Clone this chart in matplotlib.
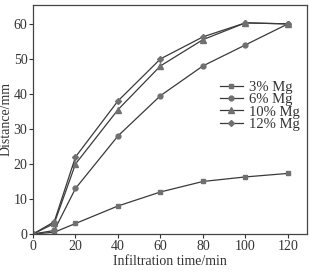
import matplotlib
matplotlib.use("Agg")
import matplotlib.pyplot as plt

plt.rcParams['font.family'] = ['Liberation Serif', 'DejaVu Serif']

time_min = [0, 10, 20, 40, 60, 80, 100, 120]
mg3  = [0, 0.5, 3, 8, 12, 15, 16.3, 17.3]
mg6  = [0, 1, 13, 28, 39.5, 48, 54, 60]
mg10 = [0, 3, 20, 35.5, 48, 55.5, 60.3, 60]
mg12 = [0, 3.5, 22, 38, 50, 56.3, 60.3, 60]

labels  = ["3% Mg", "6% Mg", "10% Mg", "12% Mg"]
markers = ["s", "o", "^", "D"]
msizes  = [3.5, 3.5, 4, 3]

fig = plt.figure(figsize=(3.13, 2.73), dpi=100)
ax = fig.add_axes([33/313, 1-234/273, (307-33)/313, (234-5)/273])

for ys, lab, mk, ms in zip([mg3, mg6, mg10, mg12], labels, markers, msizes):
    ax.plot(time_min, ys, color="#3a3a3a", linewidth=0.9, marker=mk, markersize=ms,
            markerfacecolor="#707070", markeredgecolor="#707070", label=lab)

ax.set_xlim(0, 129)
ax.set_ylim(0, 65.4)
ax.set_xticks([0, 20, 40, 60, 80, 100, 120])
ax.set_yticks([0, 10, 20, 30, 40, 50, 60])
ax.tick_params(direction="out", length=3, width=0.8, labelsize=10, colors="#333333", pad=1)
for s in ax.spines.values():
    s.set_color("#444444")
    s.set_linewidth(0.9)

ax.set_xlabel("Infiltration time/min", fontsize=10, color="#333333", labelpad=2)
ax.set_ylabel("Distance/mm", fontsize=10, color="#333333", labelpad=1)

leg = ax.legend(loc="center right", bbox_to_anchor=(1.0, 0.56), frameon=False, fontsize=10.5,
                handlelength=1.6, handletextpad=0.4, labelspacing=-0.05, borderaxespad=0.1)
for t in leg.get_texts():
    t.set_color("#333333")

fig.savefig("out.png", dpi=100)
